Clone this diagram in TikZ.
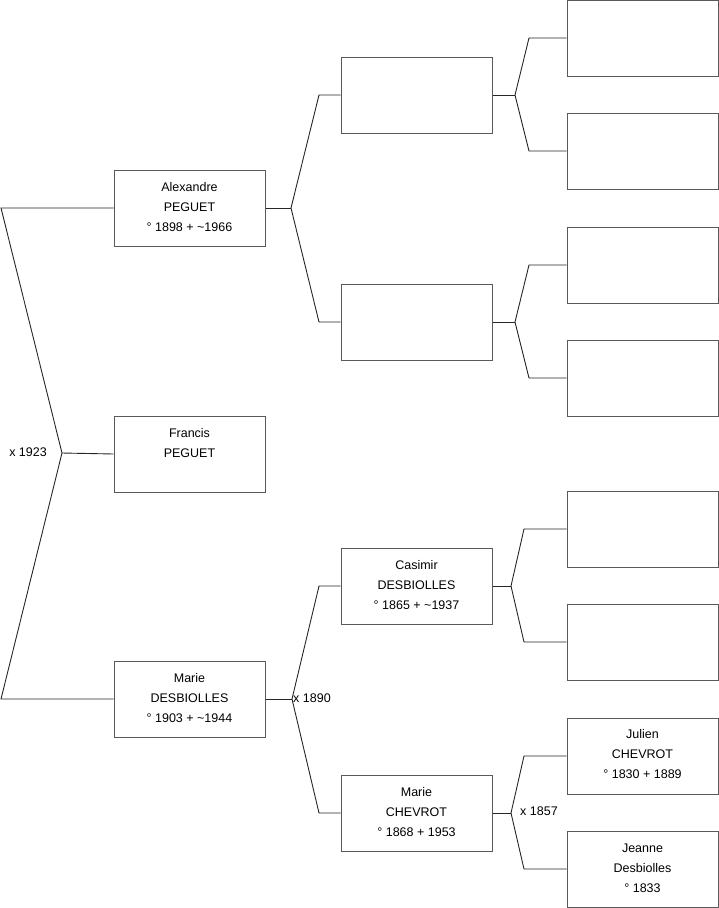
\documentclass[tikz,border=0pt]{standalone}
\usepackage{fontspec}
\setmainfont{Liberation Sans}
\begin{document}
\begin{tikzpicture}[x=1pt,y=-1pt,
  person/.style={draw=black!65, line width=1pt, fill=white, minimum width=151pt, minimum height=76pt, inner sep=0pt},
  ptext/.style={anchor=north, align=center, inner sep=0pt, font=\fontsize{12.5}{20}\selectfont},
  conn/.style={draw=black!85, line width=0.9pt},
  marr/.style={inner sep=0pt, font=\fontsize{12.5}{15}\selectfont}]
\useasboundingbox (0,0) rectangle (719,908);
% boxes
\node[person] (alex) at (189.5,208) {};
\node[person] (francis) at (189.5,454) {};
\node[person] (marie) at (189.5,699) {};
\node[person] (g2a) at (416.5,95) {};
\node[person] (g2b) at (416.5,322) {};
\node[person] (casimir) at (416.5,586) {};
\node[person] (mchev) at (416.5,813) {};
\node[person] (g3a) at (642.5,38) {};
\node[person] (g3b) at (642.5,151) {};
\node[person] (g3c) at (642.5,265) {};
\node[person] (g3d) at (642.5,378) {};
\node[person] (g3e) at (642.5,529) {};
\node[person] (g3f) at (642.5,642) {};
\node[person] (julien) at (642.5,756) {};
\node[person] (jeanne) at (642.5,869) {};
% texts
\node[ptext] (talex) at ([yshift=-13pt]alex.north) {Alexandre\\PEGUET\\° 1898 + \textasciitilde1966};
\node[ptext] (tfrancis) at ([yshift=-13pt]francis.north) {Francis\\PEGUET};
\node[ptext] (tmarie) at ([yshift=-13pt]marie.north) {Marie\\DESBIOLLES\\° 1903 + \textasciitilde1944};
\node[ptext] (tcasimir) at ([yshift=-13pt]casimir.north) {Casimir\\DESBIOLLES\\° 1865 + \textasciitilde1937};
\node[ptext] (tmchev) at ([yshift=-13pt]mchev.north) {Marie\\CHEVROT\\° 1868 + 1953};
\node[ptext] (tjulien) at ([yshift=-12pt]julien.north) {Julien\\CHEVROT\\° 1830 + 1889};
\node[ptext] (tjeanne) at ([yshift=-13.5pt]jeanne.north) {Jeanne\\Desbiolles\\° 1833};
% fork coordinates
\coordinate (a0) at (1,208);
\coordinate (m0) at (1,699);
\coordinate (f0) at (62,453);
\coordinate (fa) at (291,208);
\coordinate (fa1) at (319,95);
\coordinate (fa2) at (319,322);
\coordinate (fm) at (292,699);
\coordinate (fm1) at (319,586);
\coordinate (fm2) at (319,813);
\coordinate (fb) at (515,95);
\coordinate (fb1) at (529,38);
\coordinate (fb2) at (529,151);
\coordinate (fc) at (515,322);
\coordinate (fc1) at (529,265);
\coordinate (fc2) at (529,378);
\coordinate (fd) at (511,586);
\coordinate (fd1) at (524,529);
\coordinate (fd2) at (524,642);
\coordinate (fe) at (511,813);
\coordinate (fe1) at (524,756);
\coordinate (fe2) at (524,869);
% connectors
\draw[conn] (alex.west) -- (a0) -- (f0) -- (m0) -- (marie.west);
\draw[conn] (f0) -- (francis.west);
\draw[conn] (alex.east) -- (fa);
\draw[conn] (g2a.west) -- (fa1) -- (fa) -- (fa2) -- (g2b.west);
\draw[conn] (marie.east) -- (fm);
\draw[conn] (casimir.west) -- (fm1) -- (fm) -- (fm2) -- (mchev.west);
\draw[conn] (g2a.east) -- (fb);
\draw[conn] (g3a.west) -- (fb1) -- (fb) -- (fb2) -- (g3b.west);
\draw[conn] (g2b.east) -- (fc);
\draw[conn] (g3c.west) -- (fc1) -- (fc) -- (fc2) -- (g3d.west);
\draw[conn] (casimir.east) -- (fd);
\draw[conn] (g3e.west) -- (fd1) -- (fd) -- (fd2) -- (g3f.west);
\draw[conn] (mchev.east) -- (fe);
\draw[conn] (julien.west) -- (fe1) -- (fe) -- (fe2) -- (jeanne.west);
% marriage labels
\node[marr, anchor=east] (x1923) at (47,452) {x 1923};
\node[marr, anchor=west] (x1890) at (293,698) {x 1890};
\node[marr, anchor=west] (x1857) at (520,811) {x 1857};
\end{tikzpicture}
\end{document}
